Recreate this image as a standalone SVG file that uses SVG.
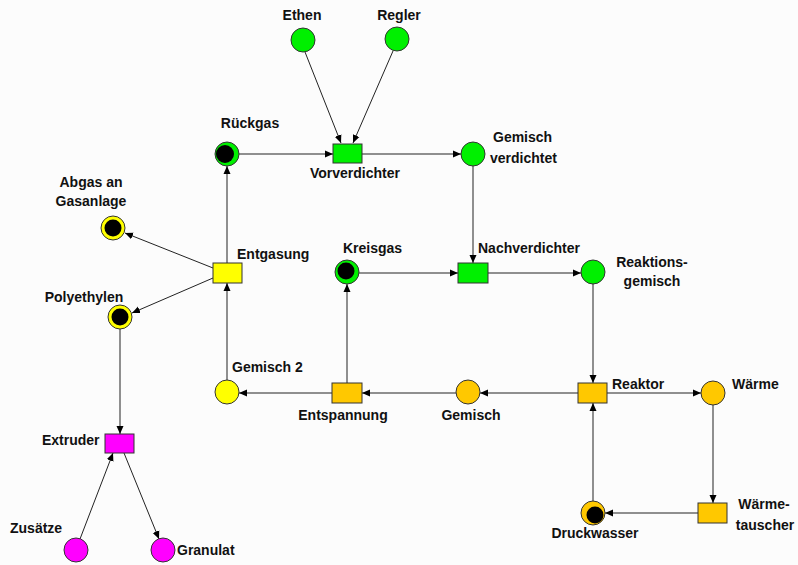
<svg xmlns="http://www.w3.org/2000/svg" width="798" height="565" viewBox="0 0 798 565">
<style>
text{font-family:"Liberation Sans",Arial,sans-serif;font-weight:bold;font-size:14px;fill:#111}
.c{text-anchor:middle}
.p{stroke:#333;stroke-width:1}
.t{stroke:#333;stroke-width:1}
.g{fill:#00f000}
.y{fill:#ffff00}
.o{fill:#ffc800}
.m{fill:#ff00ff}
.tok{fill:#000}
.e{stroke:#222;stroke-width:1;fill:none;marker-end:url(#a)}
</style>
<defs>
<marker id="a" viewBox="0 0 8 8" refX="8" refY="4" markerWidth="8" markerHeight="8" markerUnits="userSpaceOnUse" orient="auto">
<path d="M0,0.5 L8,4 L0,7.5 z" fill="#000"/>
</marker>
</defs>
<rect width="798" height="565" fill="#fcfcfc"/>
<g id="connectors">
<line class="e" x1="305" y1="52" x2="341" y2="143"/>
<line class="e" x1="393" y1="51" x2="353" y2="143"/>
<line class="e" x1="239" y1="154" x2="333" y2="154"/>
<line class="e" x1="362" y1="154" x2="461" y2="154"/>
<line class="e" x1="473" y1="166" x2="473" y2="263"/>
<line class="e" x1="359" y1="273" x2="458" y2="273"/>
<line class="e" x1="488" y1="273" x2="581" y2="273"/>
<line class="e" x1="593" y1="284" x2="593" y2="383"/>
<line class="e" x1="607" y1="393" x2="701" y2="393"/>
<line class="e" x1="713" y1="405" x2="713" y2="503"/>
<line class="e" x1="698" y1="513" x2="605" y2="513"/>
<line class="e" x1="593" y1="501" x2="593" y2="403"/>
<line class="e" x1="578" y1="393" x2="480" y2="393"/>
<line class="e" x1="456" y1="393" x2="362" y2="393"/>
<line class="e" x1="332" y1="393" x2="239" y2="393"/>
<line class="e" x1="347" y1="383" x2="347" y2="284"/>
<line class="e" x1="227" y1="380" x2="227" y2="283"/>
<line class="e" x1="227" y1="263" x2="227" y2="166"/>
<line class="e" x1="213" y1="268" x2="125" y2="233"/>
<line class="e" x1="213" y1="278" x2="132" y2="313"/>
<line class="e" x1="120" y1="329" x2="120" y2="434"/>
<line class="e" x1="80" y1="539" x2="113" y2="453"/>
<line class="e" x1="124" y1="453" x2="159" y2="539"/>
</g>
<g id="ethen"><circle class="p g" cx="303" cy="40" r="12"/><text class="c" x="302" y="20">Ethen</text></g>
<g id="regler"><circle class="p g" cx="397" cy="39" r="12"/><text class="c" x="399" y="20">Regler</text></g>
<g id="rueckgas"><circle class="p g" cx="227" cy="154" r="12"/><circle class="tok" cx="225" cy="154" r="9"/><text class="c" x="250" y="128">Rückgas</text></g>
<g id="vorverdichter"><rect class="t g" x="333" y="144" width="29" height="19"/><text class="c" x="355" y="178">Vorverdichter</text></g>
<g id="gemisch-verdichtet"><circle class="p g" cx="473" cy="154" r="12"/><text x="493" y="142">Gemisch</text><text x="490" y="163">verdichtet</text></g>
<g id="abgas"><circle class="p y" cx="113" cy="228" r="12"/><circle class="tok" cx="113" cy="228" r="8.5"/><text class="c" x="91" y="187">Abgas an</text><text class="c" x="91" y="206">Gasanlage</text></g>
<g id="entgasung"><rect class="t y" x="213" y="263" width="29" height="20"/><text x="237" y="259">Entgasung</text></g>
<g id="polyethylen"><circle class="p y" cx="120" cy="317" r="12"/><circle class="tok" cx="120" cy="317" r="8.5"/><text class="c" x="84" y="302">Polyethylen</text></g>
<g id="kreisgas"><circle class="p g" cx="347" cy="272" r="12"/><circle class="tok" cx="346" cy="271" r="8.5"/><text x="343" y="253">Kreisgas</text></g>
<g id="nachverdichter"><rect class="t g" x="458" y="263" width="30" height="20"/><text x="478" y="253">Nachverdichter</text></g>
<g id="reaktionsgemisch"><circle class="p g" cx="593" cy="272" r="12"/><text class="c" x="652" y="267">Reaktions-</text><text class="c" x="652" y="286">gemisch</text></g>
<g id="reaktor"><rect class="t o" x="578" y="383" width="29" height="20"/><text x="612" y="389">Reaktor</text></g>
<g id="waerme"><circle class="p o" cx="713" cy="393" r="12"/><text x="732" y="389">Wärme</text></g>
<g id="waermetauscher"><rect class="t o" x="698" y="503" width="29" height="20"/><text class="c" x="764" y="509">Wärme-</text><text class="c" x="765" y="530">tauscher</text></g>
<g id="druckwasser"><circle class="p o" cx="593" cy="513" r="12"/><circle class="tok" cx="595" cy="515" r="8.5"/><text class="c" x="595" y="538">Druckwasser</text></g>
<g id="gemisch"><circle class="p o" cx="468" cy="392" r="12"/><text class="c" x="471" y="420">Gemisch</text></g>
<g id="entspannung"><rect class="t o" x="332" y="383" width="30" height="20"/><text class="c" x="343" y="420">Entspannung</text></g>
<g id="gemisch2"><circle class="p y" cx="227" cy="392" r="12"/><text x="232" y="372">Gemisch 2</text></g>
<g id="extruder"><rect class="t m" x="105" y="434" width="29" height="19"/><text x="42" y="445">Extruder</text></g>
<g id="zusaetze"><circle class="p m" cx="76" cy="550" r="12"/><text x="10" y="533">Zusätze</text></g>
<g id="granulat"><circle class="p m" cx="163" cy="550" r="12"/><text x="177" y="555">Granulat</text></g>
</svg>
